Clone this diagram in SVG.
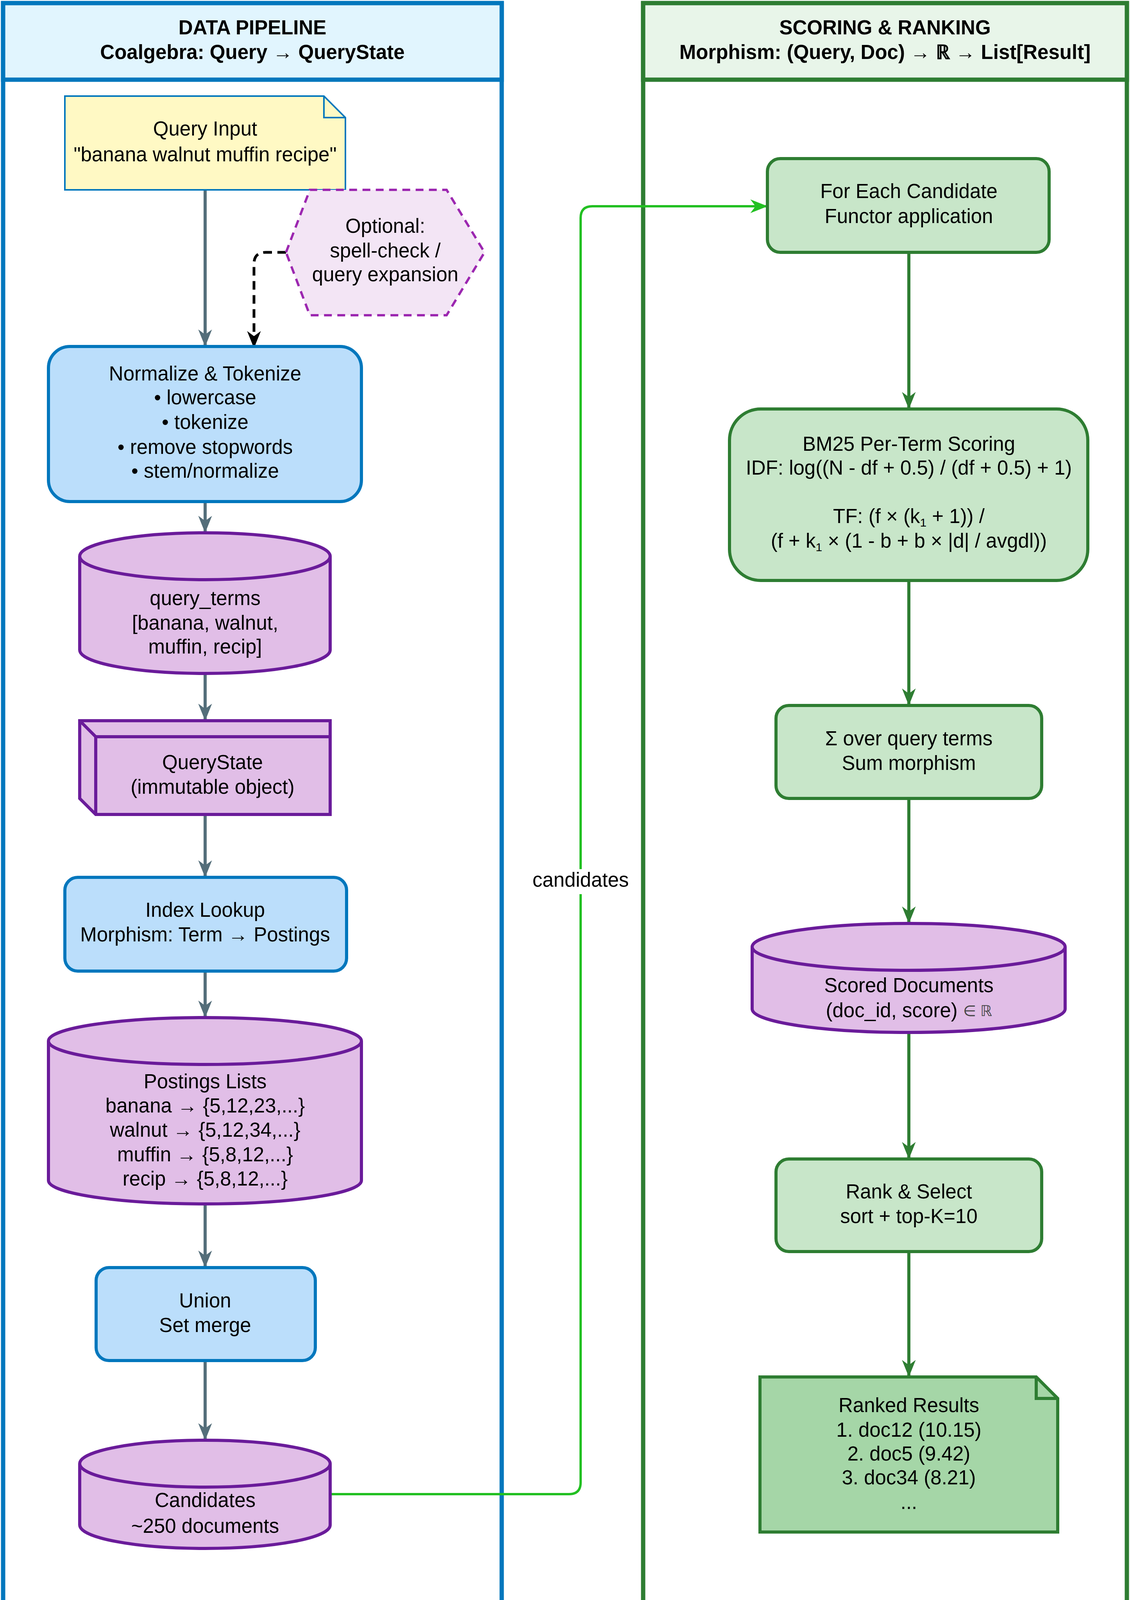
<svg xmlns="http://www.w3.org/2000/svg" width="2892" height="4332" viewBox="0 0 2892 4332">
<defs>
<style>
text{font-family:"Liberation Sans",Arial,sans-serif;font-size:51px;fill:#000;text-anchor:middle;dominant-baseline:middle}
.h{font-weight:bold}
.g{fill:none;stroke:#546E7A;stroke-width:8}
.gr{fill:none;stroke:#2E7D32;stroke-width:8}
.blue{fill:#BBDEFB;stroke:#0277BD;stroke-width:8}
.pur{fill:#E1BEE7;stroke:#6A1B9A;stroke-width:8}
.grn{fill:#C8E6C9;stroke:#2E7D32;stroke-width:8}
</style>
<marker id="agr" viewBox="0 0 10 10" refX="9" refY="5" markerWidth="44" markerHeight="44" orient="auto" markerUnits="userSpaceOnUse"><path d="M0,1 L10,5 L0,9 L3,5 z" fill="#2E7D32"/></marker>
<marker id="agl" viewBox="0 0 10 10" refX="9" refY="5" markerWidth="44" markerHeight="44" orient="auto" markerUnits="userSpaceOnUse"><path d="M0,1 L10,5 L0,9 L3,5 z" fill="#22C022"/></marker>
<marker id="ab" viewBox="0 0 10 10" refX="9" refY="5" markerWidth="44" markerHeight="44" orient="auto" markerUnits="userSpaceOnUse"><path d="M0,1 L10,5 L0,9 L3,5 z" fill="#000"/></marker>
<marker id="agm" viewBox="0 0 10 10" refX="9" refY="5" markerWidth="44" markerHeight="44" orient="auto" markerUnits="userSpaceOnUse"><path d="M0,1 L10,5 L0,9 L3,5 z" fill="#546E7A"/></marker>
</defs>
<rect width="2892" height="4332" fill="#fff"/>
<g id="panel-left">
<rect x="8" y="8" width="1276" height="4316" fill="#fff" stroke="#0277BD" stroke-width="11"/>
<rect x="8" y="8" width="1276" height="196" fill="#E1F5FE" stroke="#0277BD" stroke-width="11"/>
<text class="h" x="646" y="75">DATA PIPELINE</text>
<text class="h" x="646" y="138">Coalgebra: Query → QueryState</text>
</g>
<g id="panel-right">
<rect x="1646" y="8" width="1238" height="4316" fill="#fff" stroke="#2E7D32" stroke-width="11"/>
<rect x="1646" y="8" width="1238" height="196" fill="#E8F5E9" stroke="#2E7D32" stroke-width="11"/>
<text class="h" x="2265" y="75">SCORING &amp; RANKING</text>
<text class="h" x="2265" y="138">Morphism: (Query, Doc) → ℝ → List[Result]</text>
</g>
<g id="connectors">
<path class="g" d="M525,486 V883" marker-end="url(#agm)"/>
<path d="M732,646 H680 Q650,646 650,676 V887" fill="none" stroke="#000" stroke-width="7" stroke-dasharray="22,14" marker-end="url(#ab)"/>
<path class="g" d="M525,1284 V1360" marker-end="url(#agm)"/>
<path class="g" d="M525,1724 V1841" marker-end="url(#agm)"/>
<path class="g" d="M525,2085 V2242" marker-end="url(#agm)"/>
<path class="g" d="M525,2486 V2601" marker-end="url(#agm)"/>
<path class="g" d="M525,3082 V3241" marker-end="url(#agm)"/>
<path class="g" d="M525,3483 V3683" marker-end="url(#agm)"/>
<path d="M845,3825 H1456 Q1486,3825 1486,3795 V558 Q1486,528 1516,528 H1960" fill="none" stroke="#22C022" stroke-width="6" marker-end="url(#agl)"/>
<rect x="1350" y="2225" width="272" height="64" fill="#fff"/>
<text x="1486" y="2257">candidates</text>
<path class="gr" d="M2326,646 V1043" marker-end="url(#agr)"/>
<path class="gr" d="M2326,1486 V1802" marker-end="url(#agr)"/>
<path class="gr" d="M2326,2044 V2360" marker-end="url(#agr)"/>
<path class="gr" d="M2326,2643 V2963" marker-end="url(#agr)"/>
<path class="gr" d="M2326,3204 V3521" marker-end="url(#agr)"/>
</g>
<g id="query-input">
<path d="M166,246 H829 L884,301 V486 H166 Z" fill="#FFF9C4" stroke="#0277BD" stroke-width="4"/>
<path d="M829,246 V301 H884" fill="none" stroke="#0277BD" stroke-width="4"/>
<text x="525" y="334">Query Input</text>
<text x="525" y="400">"banana walnut muffin recipe"</text>
</g>
<g id="optional">
<polygon points="732,646 793,486 1143,486 1240,646 1143,807 793,807" fill="#F3E5F5" stroke="#9C27B0" stroke-width="6" stroke-dasharray="20,14"/>
<text x="986" y="583">Optional:</text>
<text x="986" y="646">spell-check /</text>
<text x="986" y="707">query expansion</text>
</g>
<g id="normalize">
<rect class="blue" x="124" y="887" width="801" height="397" rx="55"/>
<text x="525" y="961">Normalize &amp; Tokenize</text>
<text x="525" y="1022">• lowercase</text>
<text x="525" y="1085">• tokenize</text>
<text x="525" y="1149">• remove stopwords</text>
<text x="525" y="1210">• stem/normalize</text>
</g>
<g id="query-terms">
<path class="pur" d="M204,1424 V1664 A320.5,60 0 0 0 845,1664 V1424 A320.5,60 0 0 0 204,1424 Z"/>
<path class="pur" d="M204,1424 A320.5,60 0 0 0 845,1424" fill="none"/>
<text x="525" y="1536">query_terms</text>
<text x="525" y="1599">[banana, walnut,</text>
<text x="525" y="1660">muffin, recip]</text>
</g>
<g id="query-state">
<path class="pur" d="M204,1845 H845 V2085 H245 L204,2044 Z"/>
<path d="M204,1845 L245,1886 H845 M245,1886 V2085" fill="none" stroke="#6A1B9A" stroke-width="8"/>
<text x="544" y="1956">QueryState</text>
<text x="544" y="2019">(immutable object)</text>
</g>
<g id="index-lookup">
<rect class="blue" x="166" y="2246" width="721" height="240" rx="33"/>
<text x="525" y="2334">Index Lookup</text>
<text x="525" y="2397">Morphism: Term → Postings</text>
</g>
<g id="postings">
<path class="pur" d="M124,2665 V3022 A400.5,60 0 0 0 925,3022 V2665 A400.5,60 0 0 0 124,2665 Z"/>
<path d="M124,2665 A400.5,60 0 0 0 925,2665" fill="none" stroke="#6A1B9A" stroke-width="8"/>
<text x="525" y="2773">Postings Lists</text>
<text x="525" y="2835">banana → {5,12,23,...}</text>
<text x="525" y="2897">walnut → {5,12,34,...}</text>
<text x="525" y="2960">muffin → {5,8,12,...}</text>
<text x="525" y="3022">recip → {5,8,12,...}</text>
</g>
<g id="union">
<rect class="blue" x="246" y="3245" width="561" height="238" rx="33"/>
<text x="525" y="3334">Union</text>
<text x="525" y="3397">Set merge</text>
</g>
<g id="candidates">
<path class="pur" d="M204,3747 V3904 A320.5,60 0 0 0 845,3904 V3747 A320.5,60 0 0 0 204,3747 Z"/>
<path d="M204,3747 A320.5,60 0 0 0 845,3747" fill="none" stroke="#6A1B9A" stroke-width="8"/>
<text x="525" y="3845">Candidates</text>
<text x="525" y="3911">~250 documents</text>
</g>
<g id="for-each">
<rect class="grn" x="1964" y="406" width="721" height="240" rx="33"/>
<text x="2326" y="494">For Each Candidate</text>
<text x="2326" y="558">Functor application</text>
</g>
<g id="bm25">
<rect class="grn" x="1867" y="1047" width="917" height="439" rx="80"/>
<text x="2326" y="1141">BM25 Per-Term Scoring</text>
<text x="2326" y="1202">IDF: log((N - df + 0.5) / (df + 0.5) + 1)</text>
<text x="2326" y="1326">TF: (f × (k<tspan font-size="30" dy="14">1</tspan><tspan dy="-14"> + 1)) /</tspan></text>
<text x="2326" y="1389">(f + k<tspan font-size="30" dy="14">1</tspan><tspan dy="-14"> × (1 - b + b × |d| / avgdl))</tspan></text>
</g>
<g id="sum">
<rect class="grn" x="1986" y="1806" width="680" height="238" rx="33"/>
<text x="2326" y="1895">Σ over query terms</text>
<text x="2326" y="1958">Sum morphism</text>
</g>
<g id="scored">
<path class="pur" d="M1925,2424 V2583 A400.5,60 0 0 0 2726,2583 V2424 A400.5,60 0 0 0 1925,2424 Z"/>
<path d="M1925,2424 A400.5,60 0 0 0 2726,2424" fill="none" stroke="#6A1B9A" stroke-width="8"/>
<text x="2326" y="2527">Scored Documents</text>
<text x="2326" y="2591">(doc_id, score) <tspan font-size="38" fill="#444">∈ ℝ</tspan></text>
</g>
<g id="rank">
<rect class="grn" x="1986" y="2967" width="680" height="237" rx="33"/>
<text x="2326" y="3055">Rank &amp; Select</text>
<text x="2326" y="3118">sort + top-K=10</text>
</g>
<g id="ranked">
<path d="M1945,3525 H2652 L2707,3580 V3922 H1945 Z" fill="#A5D6A7" stroke="#2E7D32" stroke-width="8"/>
<path d="M2652,3525 V3580 H2707" fill="none" stroke="#2E7D32" stroke-width="8"/>
<text x="2326" y="3602">Ranked Results</text>
<text x="2326" y="3665">1. doc12 (10.15)</text>
<text x="2326" y="3726">2. doc5 (9.42)</text>
<text x="2326" y="3787">3. doc34 (8.21)</text>
<text x="2326" y="3850">...</text>
</g>
</svg>
